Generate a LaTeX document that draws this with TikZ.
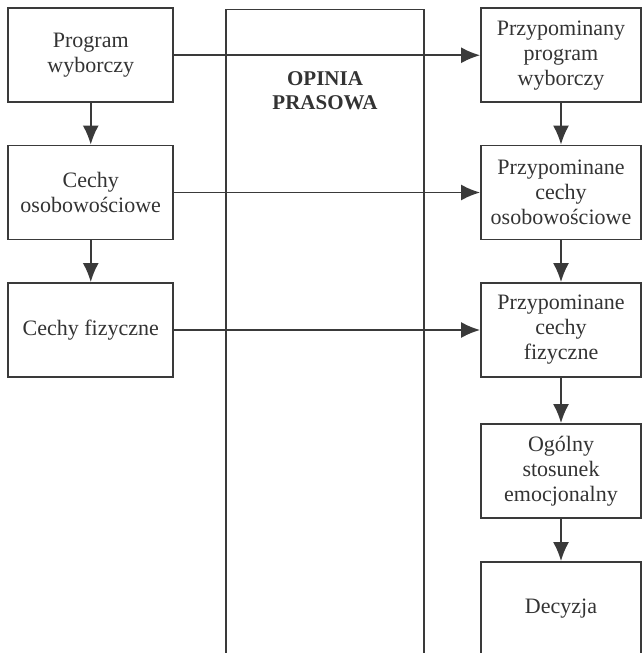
\documentclass[tikz,border=0pt]{standalone}
\usepackage{fontspec}
\setmainfont{Liberation Serif}
\usetikzlibrary{arrows.meta}
\definecolor{linec}{HTML}{3A3A3A}
\definecolor{textc}{HTML}{333333}
\begin{document}
\begin{tikzpicture}[x=1pt,y=-1pt,
  box/.style={draw=linec, line width=1.8pt, minimum height=94pt, inner sep=0pt, align=center, text=textc, font=\fontsize{22}{25}\selectfont},
  lbox/.style={box, minimum width=165pt},
  rbox/.style={box, minimum width=160pt},
  arr/.style={draw=linec, line width=1.8pt, -{Latex[length=19pt,width=16pt]}}]
\useasboundingbox (0,0) rectangle (642,653);
\clip (0,0) rectangle (642,653);
\node[draw=linec, line width=1.8pt, minimum width=198pt, minimum height=645pt, inner sep=0pt, anchor=north] (M) at (325,8.5) {};
\node[align=center, text=textc, font=\fontsize{21}{24}\selectfont\bfseries] (ML) at (325,91) {OPINIA\\PRASOWA};

\node[lbox] (L1) at (90.75,55.25) {Program\\wyborczy};
\node[lbox] (L2) at (90.75,192.5) {Cechy\\osobowościowe};
\node[lbox] (L3) at (90.75,330) {Cechy fizyczne};

\node[rbox] (R1) at (561,55.25) {Przypominany\\program\\wyborczy};
\node[rbox] (R2) at (561,192.5) {Przypominane\\cechy\\osobowościowe};
\node[rbox] (R3) at (561,330) {Przypominane\\cechy\\fizyczne};
\node[rbox] (R4) at (561,471) {Ogólny\\stosunek\\emocjonalny};
\node[rbox] (R5) at (561,609) {Decyzja};

\draw[arr] (L1) -- (L2);
\draw[arr] (L2) -- (L3);
\draw[arr] (L1.east) -- (R1.west);
\draw[arr] (L2.east) -- (R2.west);
\draw[arr] (L3.east) -- (R3.west);
\draw[arr] (R1) -- (R2);
\draw[arr] (R2) -- (R3);
\draw[arr] (R3) -- (R4);
\draw[arr] (R4) -- (R5);
\end{tikzpicture}
\end{document}
